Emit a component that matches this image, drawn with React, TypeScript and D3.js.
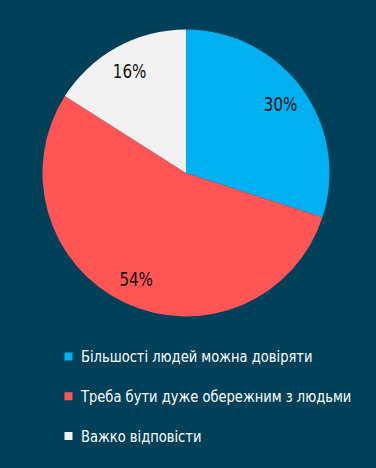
import React from "react";
import * as d3 from "d3";

const categories = [
  "Більшості людей можна довіряти",
  "Треба бути дуже обережним з людьми",
  "Важко відповісти",
];
const values = [30, 54, 16];
const colors = ["#00b0f0", "#ff5555", "#f2f2f2"];

const W = 376;
const H = 468;
const cx = 186;
const cy = 173;
const R = 143.5;
const labelR = 117;
const FONT = "'DejaVu Sans Condensed', 'DejaVu Sans', sans-serif";

export default function App() {
  const pie = d3.pie<number>().sort(null).value((d) => d);
  const arcs = pie(values);
  const arc = d3.arc<d3.PieArcDatum<number>>().innerRadius(0).outerRadius(R);
  const labelArc = d3
    .arc<d3.PieArcDatum<number>>()
    .innerRadius(labelR)
    .outerRadius(labelR);
  const legendY = d3.scalePoint<number>().domain([0, 1, 2]).range([356.5, 436]);

  return (
    <svg
      width={W}
      height={H}
      style={{ position: "absolute", left: 0, top: 0, display: "block" }}
    >
      <rect x={0} y={0} width={W} height={H} fill="#004058" />
      <g transform={`translate(${cx},${cy})`}>
        {arcs.map((a, i) => (
          <path key={i} d={arc(a) || ""} fill={colors[i]} />
        ))}
        {arcs.map((a, i) => {
          const [x, y] = labelArc.centroid(a);
          return (
            <g key={"l" + i} transform={`translate(${x},${y}) scale(0.84,1)`}>
              <text
                x={0}
                y={0}
                textAnchor="middle"
                dominantBaseline="central"
                fontFamily={FONT}
                fontSize={20}
                fill="#111"
              >
                {values[i]}%
              </text>
            </g>
          );
        })}
      </g>
      <g>
        {categories.map((c, i) => (
          <g key={c} transform={`translate(64.5,${legendY(i)})`}>
            <rect x={0} y={-4} width={8} height={8} fill={colors[i]} />
            <g transform="translate(16.5,0) scale(0.97,1)">
              <text
                x={0}
                y={0}
                dominantBaseline="central"
                fontFamily={FONT}
                fontSize={15}
                fill="#ffffff"
              >
                {c}
              </text>
            </g>
          </g>
        ))}
      </g>
    </svg>
  );
}
